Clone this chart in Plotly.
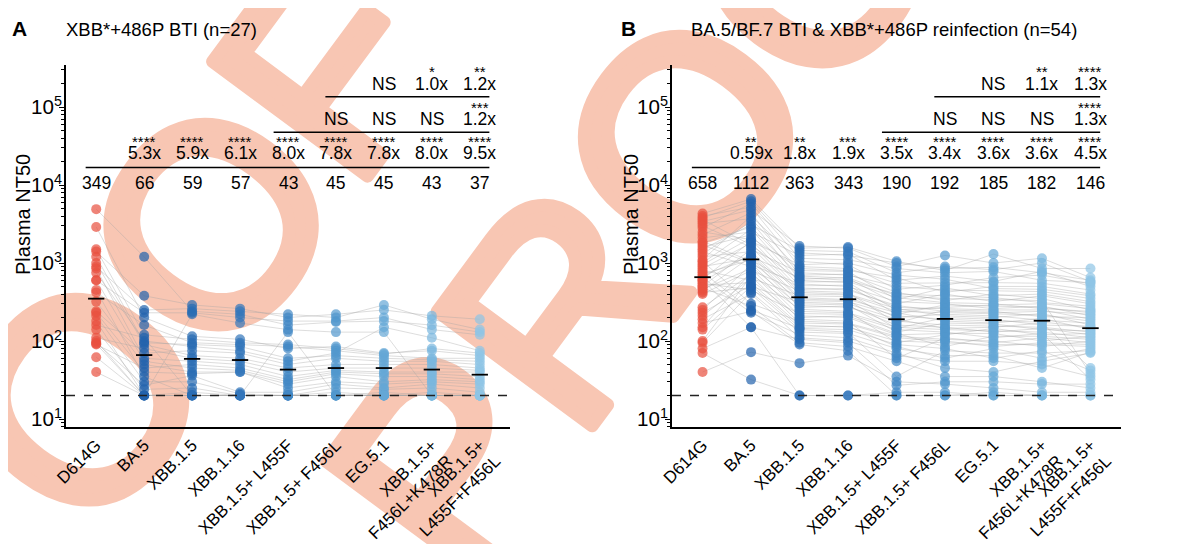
import base64
import plotly.graph_objects as go

# ---------------- data ----------------
variants = ["D614G", "BA.5", "XBB.1.5", "XBB.1.16", "XBB.1.5+ L455F", "XBB.1.5+ F456L",
            "EG.5.1", "XBB.1.5+<br>F456L+K478R", "XBB.1.5+<br>L455F+F456L"]

# Panel A: XBB*+486P BTI (n=27), one list per variant, subject order kept
a_d614g = [1400, 4900, 900, 2900, 600, 1500, 420, 1200, 160, 750, 240, 1000, 110, 850, 90, 600, 320, 230, 450, 95, 210, 140, 180, 62, 100, 92, 40]
a_ba5 = [380, 1200, 250, 200, 230, 120, 160, 95, 110, 100, 70, 90, 80, 60, 45, 55, 50, 40, 35, 27, 30, 24, 20, 20, 20, 20, 20]
a_xbb15 = [290, 240, 260, 115, 230, 105, 95, 90, 20, 85, 75, 65, 60, 55, 50, 45, 40, 38, 20, 36, 30, 25, 220, 22, 20, 20, 20]
a_xbb116 = [260, 220, 240, 105, 200, 95, 90, 85, 20, 75, 70, 60, 55, 50, 45, 42, 40, 40, 20, 22, 21, 20, 170, 20, 20, 20, 20]
a_l455f = [200, 160, 220, 80, 180, 90, 85, 60, 20, 55, 50, 45, 40, 35, 32, 30, 28, 25, 20, 22, 20, 20, 140, 20, 20, 130, 20]
a_f456l = [220, 175, 200, 85, 180, 80, 75, 65, 20, 70, 60, 50, 45, 42, 40, 38, 35, 30, 20, 28, 25, 22, 130, 20, 20, 20, 20]
a_eg51 = [250, 180, 290, 70, 200, 68, 65, 60, 22, 150, 55, 50, 45, 40, 38, 35, 30, 28, 20, 25, 24, 20, 130, 20, 20, 20, 20]
a_k478r = [210, 160, 190, 75, 140, 80, 60, 58, 20, 110, 55, 50, 45, 40, 38, 35, 32, 30, 20, 28, 25, 22, 20, 20, 20, 20, 20]
a_lf = [190, 130, 140, 65, 120, 70, 60, 55, 20, 75, 50, 45, 42, 40, 35, 32, 30, 28, 20, 25, 22, 20, 20, 20, 20, 20, 20]

a_gmt = [349, 66, 59, 57, 43, 45, 45, 43, 37]
a_fold1 = ["", "5.3x", "5.9x", "6.1x", "8.0x", "7.8x", "7.8x", "8.0x", "9.5x"]
a_star1 = ["", "****", "****", "****", "****", "****", "****", "****", "****"]
a_fold2 = ["", "", "", "", "", "NS", "NS", "NS", "1.2x"]
a_star2 = ["", "", "", "", "", "", "", "", "***"]
a_fold3 = ["", "", "", "", "", "", "NS", "1.0x", "1.2x"]
a_star3 = ["", "", "", "", "", "", "", "*", "**"]

# Panel B: BA.5/BF.7 BTI & XBB*+486P reinfection (n=54)
b_d614g = [3400, 4300, 1500, 3800, 2100, 2800, 1100, 620, 4000, 950, 3200, 500, 2300, 1800, 440, 1300, 3600, 1000,
           250, 1600, 720, 2500, 400, 850, 3000, 210, 1200, 580, 1900, 140, 680, 1400, 900, 270, 1700, 550, 460, 800,
           150, 1050, 100, 520, 230, 760, 420, 95, 650, 190, 600, 480, 170, 40, 80, 70]
b_ba5 = [4800, 6600, 3100, 6200, 2500, 5800, 4000, 1900, 5200, 2100, 3700, 1500, 4400, 2900, 1200, 3400, 1700, 2700,
         950, 2300, 1100, 2000, 800, 1800, 1600, 640, 1400, 1300, 1050, 500, 1250, 900, 1150, 720, 1000, 450, 850, 600,
         760, 300, 680, 560, 520, 250, 480, 420, 230, 400, 150, 280, 240, 72, 150, 32]
b_xbb15 = [1650, 1550, 1450, 1350, 1250, 1150, 1050, 950, 900, 850, 800, 750, 700, 680, 650, 620, 600, 570, 540, 510,
           480, 460, 440, 420, 400, 380, 360, 345, 330, 315, 300, 285, 270, 255, 240, 225, 210, 200, 190, 180, 170, 160,
           150, 145, 140, 130, 120, 110, 105, 95, 90, 52, 20, 20]
b_xbb116 = [1550, 1600, 1400, 1250, 1300, 1100, 950, 1000, 850, 800, 780, 700, 720, 640, 600, 650, 560, 580, 500, 520,
            450, 470, 420, 400, 390, 370, 340, 330, 320, 300, 290, 270, 280, 240, 230, 220, 200, 210, 180, 170, 165, 150,
            155, 140, 130, 125, 110, 100, 95, 85, 75, 65, 20, 20]
b_l455f = [900, 1050, 750, 1000, 600, 850, 460, 700, 550, 650, 340, 500, 420, 300, 400, 380, 250, 360, 320, 220, 285,
           270, 170, 260, 240, 200, 230, 145, 210, 190, 130, 180, 160, 95, 150, 140, 120, 125, 60, 115, 110, 100, 85, 90,
           35, 80, 70, 65, 27, 55, 20, 30, 22, 20]
b_f456l = [1250, 800, 900, 850, 680, 750, 520, 620, 560, 420, 480, 450, 330, 400, 380, 350, 270, 310, 300, 290, 240,
           260, 250, 210, 230, 220, 180, 200, 190, 145, 170, 160, 150, 120, 140, 130, 125, 85, 110, 105, 100, 95, 60, 80,
           75, 65, 45, 55, 30, 35, 20, 28, 22, 20]
b_eg51 = [1000, 1300, 820, 880, 580, 780, 650, 470, 560, 500, 380, 440, 400, 320, 360, 340, 290, 300, 260, 280, 230,
          250, 240, 200, 220, 210, 170, 190, 180, 150, 165, 155, 130, 145, 135, 110, 125, 115, 95, 100, 85, 90, 80, 60,
          70, 65, 40, 55, 30, 35, 22, 25, 20, 20]
b_k478r = [1150, 850, 1000, 750, 780, 600, 700, 460, 550, 500, 400, 430, 350, 380, 310, 330, 300, 260, 280, 270, 240,
           250, 205, 225, 215, 185, 195, 160, 175, 170, 140, 150, 145, 120, 130, 125, 100, 115, 110, 85, 95, 90, 60, 75,
           70, 45, 55, 50, 28, 30, 20, 22, 20, 20]
b_lf = [650, 850, 580, 600, 500, 560, 540, 380, 450, 400, 320, 350, 250, 300, 280, 38, 260, 240, 210, 230, 220, 190,
        200, 160, 180, 170, 140, 155, 150, 45, 135, 130, 120, 125, 110, 32, 115, 105, 95, 100, 90, 85, 80, 42, 75, 72,
        70, 35, 28, 25, 20, 22, 20, 20]

b_gmt = [658, 1112, 363, 343, 190, 192, 185, 182, 146]
b_fold1 = ["", "0.59x", "1.8x", "1.9x", "3.5x", "3.4x", "3.6x", "3.6x", "4.5x"]
b_star1 = ["", "**", "**", "***", "****", "****", "****", "****", "****"]
b_fold2 = ["", "", "", "", "", "NS", "NS", "NS", "1.3x"]
b_star2 = ["", "", "", "", "", "", "", "", "****"]
b_fold3 = ["", "", "", "", "", "", "NS", "1.1x", "1.3x"]
b_star3 = ["", "", "", "", "", "", "", "**", "****"]

lod = 20  # detection limit

# ---------------- style / layout ----------------
colors = ["#e8503f", "#2263ac", "#2a6cb3", "#3376ba", "#4288c5", "#5197cd", "#64a7d6", "#79b6de", "#8ec4e5"]
FONT = "Liberation Sans, Arial, sans-serif"
OFF = 8                      # page body margin
W, H = 1196 - OFF, 544 - OFF  # figure size


def px_x(x):
    return (x - OFF) / W


def px_y(y):
    return 1 - (y - OFF) / H


ytop_px, ybot_px = 65, 427
ax_px = (66, 510)
bx_px = (672, 1121)
ylog_bottom = 0.8974
ylog_top = ylog_bottom + (ybot_px - ytop_px) / 78.0
xr = [-0.63, 8.63]


def plog(px):
    return ylog_bottom + (ybot_px - px) / 78.0


row_num = plog(183)
row_l1 = plog(167.5)
row_f1 = plog(153)
row_s1 = plog(141)
row_l2 = plog(132.3)
row_f2 = plog(118.5)
row_s2 = plog(107.5)
row_l3 = plog(96.7)
row_f3 = plog(84)
row_s3 = plog(71.5)

fig = go.Figure()

panels = [
    ("x", "y", [a_d614g, a_ba5, a_xbb15, a_xbb116, a_l455f, a_f456l, a_eg51, a_k478r, a_lf],
     a_gmt, a_fold1, a_star1, a_fold2, a_star2, a_fold3, a_star3),
    ("x2", "y2", [b_d614g, b_ba5, b_xbb15, b_xbb116, b_l455f, b_f456l, b_eg51, b_k478r, b_lf],
     b_gmt, b_fold1, b_star1, b_fold2, b_star2, b_fold3, b_star3),
]

annotations = []
for xa, ya, cols, gmt, f1, s1, f2, s2, f3, s3 in panels:
    n = len(cols[0])
    lx, ly = [], []
    for i in range(n):
        for j in range(len(cols)):
            lx.append(j)
            ly.append(cols[j][i])
        lx.append(None)
        ly.append(None)
    fig.add_trace(go.Scatter(x=lx, y=ly, mode="lines", xaxis=xa, yaxis=ya,
                             line=dict(color="rgba(165,165,165,0.55)", width=0.7),
                             hoverinfo="skip", showlegend=False))
    for j in range(len(cols)):
        fig.add_trace(go.Scatter(x=[j] * n, y=cols[j], mode="markers", xaxis=xa, yaxis=ya,
                                 marker=dict(size=10, color=colors[j], opacity=0.7, line=dict(width=0)),
                                 showlegend=False))
    fig.add_trace(go.Scatter(x=xr, y=[lod, lod], mode="lines", xaxis=xa, yaxis=ya,
                             line=dict(color="#222222", width=1.5, dash="dash"), showlegend=False))
    for j in range(len(cols)):
        fig.add_trace(go.Scatter(x=[j - 0.17, j + 0.17], y=[gmt[j], gmt[j]], mode="lines", xaxis=xa, yaxis=ya,
                                 line=dict(color="black", width=1.8), showlegend=False))
    for x0, lv in [(-0.22, row_l1), (3.7, row_l2), (4.78, row_l3)]:
        fig.add_trace(go.Scatter(x=[x0, 8.2], y=[10 ** lv, 10 ** lv], mode="lines", xaxis=xa, yaxis=ya,
                                 line=dict(color="black", width=1.5), showlegend=False))
    for j in range(len(cols)):
        annotations.append(dict(x=j, y=row_num, xref=xa, yref=ya, text=str(gmt[j]), showarrow=False,
                                font=dict(size=17.5, color="black", family=FONT)))
        for txt, lv, sz in [(f1[j], row_f1, 17.5), (s1[j], row_s1, 15), (f2[j], row_f2, 17.5),
                            (s2[j], row_s2, 15), (f3[j], row_f3, 17.5), (s3[j], row_s3, 15)]:
            if txt:
                annotations.append(dict(x=j, y=lv, xref=xa, yref=ya, text=txt, showarrow=False,
                                        font=dict(size=sz, color="black", family=FONT)))

annotations += [
    dict(x=px_x(19), y=px_y(28), xref="paper", yref="paper", xanchor="center", yanchor="middle",
         text="<b>A</b>", showarrow=False, font=dict(size=21, color="black", family=FONT)),
    dict(x=px_x(628), y=px_y(28), xref="paper", yref="paper", xanchor="center", yanchor="middle",
         text="<b>B</b>", showarrow=False, font=dict(size=21, color="black", family=FONT)),
    dict(x=px_x(64), y=px_y(30), xref="paper", yref="paper", xanchor="left", yanchor="middle",
         text="XBB*+486P BTI (n=27)", showarrow=False, font=dict(size=18.5, color="black", family=FONT)),
    dict(x=px_x(689), y=px_y(30), xref="paper", yref="paper", xanchor="left", yanchor="middle",
         text="BA.5/BF.7 BTI & XBB*+486P reinfection (n=54)",
         showarrow=False, font=dict(size=18.5, color="black", family=FONT)),
    dict(x=px_x(23), y=px_y(215), xref="paper", yref="paper", xanchor="center", yanchor="middle",
         text="Plasma NT50", textangle=-90,
         showarrow=False, font=dict(size=20, color="black", family=FONT)),
    dict(x=px_x(631), y=px_y(215), xref="paper", yref="paper", xanchor="center", yanchor="middle",
         text="Plasma NT50", textangle=-90,
         showarrow=False, font=dict(size=20, color="black", family=FONT)),
]

# watermark (drawn under the plot)
wm_col = "#f8c6b3"
svg = f'''<svg xmlns="http://www.w3.org/2000/svg" width="{W}" height="{H}" viewBox="0 0 {W} {H}">
<g transform="translate({-OFF},{-OFF})" font-family="Liberation Sans, Arial, sans-serif" font-size="280"
 fill="{wm_col}" stroke="{wm_col}" stroke-width="13" stroke-linejoin="round">
<g transform="translate(144,310) rotate(-53.5)"><text x="-607" y="100">PROOF</text></g>
<g transform="translate(748,47) rotate(-53.5)"><text x="-607" y="100">PROOF</text></g>
</g></svg>'''
src = "data:image/svg+xml;base64," + base64.b64encode(svg.encode()).decode()

yaxis_common = dict(type="log", range=[ylog_bottom, ylog_top], domain=[px_y(ybot_px), px_y(ytop_px)],
                    showline=True, linecolor="black", linewidth=1.5, ticks="outside", ticklen=5, tickwidth=1.2,
                    tickcolor="black", dtick=1, exponentformat="power", labelalias={"10": "10<sup>1</sup>"},
                    minor=dict(ticks="outside", ticklen=3, tickwidth=1, tickcolor="black", dtick="D1"),
                    ticklabelstandoff=-6,
                    showgrid=False, zeroline=False, automargin=False,
                    tickfont=dict(size=16.5, color="black", family=FONT))
xaxis_common = dict(range=xr, tickmode="array", tickvals=list(range(9)), ticktext=variants, tickangle=-45,
                    showline=True, linecolor="black", linewidth=1.5, ticks="", showgrid=False, zeroline=False,
                    automargin=False, tickfont=dict(size=17, color="black", family=FONT))

fig.update_layout(
    width=W, height=H, margin=dict(l=0, r=0, t=0, b=0),
    paper_bgcolor="white", plot_bgcolor="rgba(0,0,0,0)",
    xaxis=dict(domain=[px_x(ax_px[0]), px_x(ax_px[1])], anchor="y", **xaxis_common),
    yaxis=dict(anchor="x", **yaxis_common),
    xaxis2=dict(domain=[px_x(bx_px[0]), px_x(bx_px[1])], anchor="y2", **xaxis_common),
    yaxis2=dict(anchor="x2", **yaxis_common),
    annotations=annotations,
    images=[dict(source=src, xref="paper", yref="paper", x=0, y=1, sizex=1, sizey=1,
                 xanchor="left", yanchor="top", sizing="stretch", layer="below")],
    showlegend=False,
)

fig.write_html("out.html")
